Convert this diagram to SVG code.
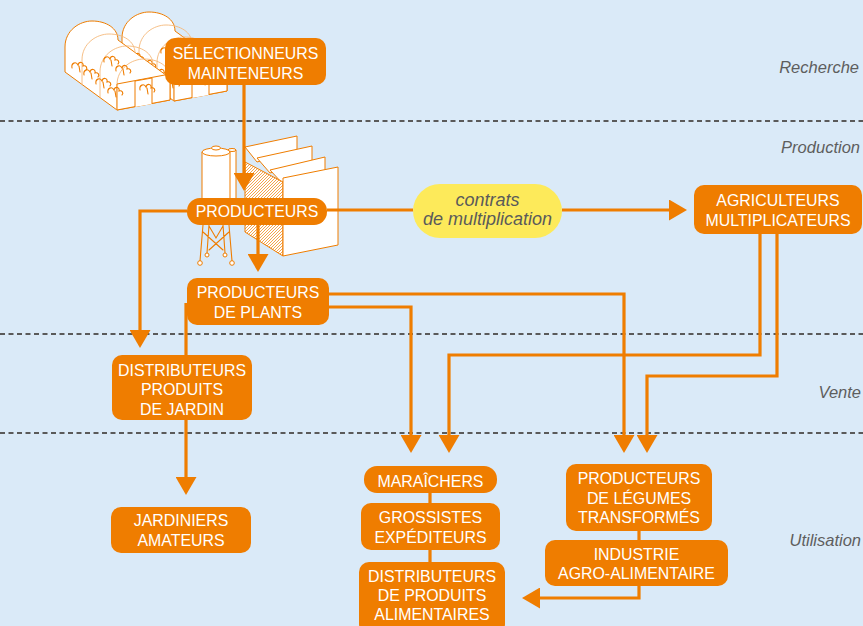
<svg xmlns="http://www.w3.org/2000/svg" width="863" height="626" viewBox="0 0 863 626">
<style>
.bg{fill:#daeaf8}
.dash{stroke:#5a5a5a;stroke-width:2;stroke-dasharray:5 3.5;fill:none}
.box{fill:#ef7d00}
.t{font-family:"Liberation Sans",Arial,sans-serif;font-size:15.9px;fill:#ffffff;text-anchor:middle}
.row{font-family:"Liberation Sans",Arial,sans-serif;font-size:16.5px;font-style:italic;fill:#5e5e5e;text-anchor:end}
.ct{font-family:"Liberation Sans",Arial,sans-serif;font-size:18px;font-style:italic;fill:#5a5a5a;text-anchor:middle}
.ln{fill:none;stroke:#ef7d00;stroke-width:3.2}
.arr{fill:none;stroke:#ef7d00;stroke-width:3.2;marker-end:url(#ah)}
.ill{fill:#ffffff;stroke:#ef7d00;stroke-width:1;stroke-linejoin:round}
.rib{fill:none;stroke:#f5b97a;stroke-width:0.9}
.pl{fill:none;stroke:#ef7d00;stroke-width:1.1;stroke-linecap:round}
</style>
<defs>
<marker id="ah" viewBox="0 0 18 21" refX="1" refY="10.5" markerWidth="18" markerHeight="21" markerUnits="userSpaceOnUse" orient="auto">
<path d="M0,0 L18,10.5 L0,21 Z" fill="#ef7d00"/>
</marker>
<pattern id="hatch" patternUnits="userSpaceOnUse" width="3" height="3">
<rect width="3" height="3" fill="#ffffff"/>
<path d="M0,3 L3,0" stroke="#ef7d00" stroke-width="0.7"/>
</pattern>
<g id="tunnel">
<path class="ill" d="M65,72 V47 C65,30 80,21 92,21 C106,21 118,28 118,40 L170,78 V100 L117,110 Z"/>
<path class="rib" d="M82,85 V60 C82,43 97,34 109,34 C123,34 135,41 135,53"/>
<path class="rib" d="M100,97 V72 C100,55 115,46 127,46 C141,46 153,53 153,65"/>
<path class="rib" d="M117,110 V85 C117,68 132,59 144,59 C158,59 170,66 170,78"/>
<path class="ill" d="M117,110 V84 L170,74 V100 Z"/>
<path class="ill" d="M135,107 V81 L152,78 V104"/>
<path class="pl" d="M72,68 c-1,-5 4,-7 6,-3 c1,-4 6,-3 5,1 c3,-1 5,2 3,4 M79,66 l1,6 M84,75 c-1,-5 4,-7 6,-3 c1,-4 6,-3 5,1 c3,-1 5,2 3,4 M91,73 l1,6 M96,84 c-1,-5 4,-7 6,-3 c1,-4 6,-3 5,1 c3,-1 5,2 3,4 M103,82 l1,6 M108,93 c-1,-5 4,-7 6,-3 c1,-4 6,-3 5,1 c3,-1 5,2 3,4 M115,91 l1,6 M104,62 c-1,-5 4,-7 6,-3 c1,-4 6,-3 5,1 c3,-1 5,2 3,4 M111,60 l1,6 M116,71 c-1,-5 4,-7 6,-3 c1,-4 6,-3 5,1 c3,-1 5,2 3,4 M123,69 l1,6 M140,90 c-1,-5 4,-7 6,-3 c1,-4 6,-3 5,1 c3,-1 5,2 3,4 M147,88 l1,6"/>
</g>
</defs>

<rect class="bg" x="0" y="0" width="863" height="626"/>

<g id="separators">
<line class="dash" x1="0" y1="121" x2="863" y2="121"/>
<line class="dash" x1="0" y1="334" x2="863" y2="334"/>
<line class="dash" x1="0" y1="433" x2="863" y2="433"/>
</g>

<g id="greenhouses">
<use href="#tunnel" transform="translate(57,-9)"/>
<use href="#tunnel"/>
</g>

<g id="factory">
<path class="ill" d="M245,147 L297,136 L297,151 L257,162 Z"/>
<path class="ill" d="M257,158 L312,146 L312,162 L270,173 Z"/>
<path class="ill" d="M270,170 L325,157 L325,172 L283,184 Z"/>
<path d="M245,162 L283,182 L283,256 L245,232 Z" fill="url(#hatch)" stroke="#ef7d00" stroke-width="1"/>
<path class="ill" d="M283,178 L338,167 L338,245 L283,256 Z"/>
<rect class="ill" x="228" y="150" width="8" height="50"/>
<ellipse class="ill" cx="232" cy="150" rx="4" ry="1.5"/>
<rect class="ill" x="202" y="152" width="28" height="48"/>
<ellipse class="ill" cx="216" cy="152" rx="14" ry="4"/>
<ellipse class="ill" cx="216" cy="148" rx="4.5" ry="2"/>
<path class="pl" d="M203,225 L200,261 M229,225 L232,261 M209,225 L207,253 M223,225 L225,253 M203,232 L223,250 M229,232 L209,250 M209,226 L216,238 L223,226"/>
<circle class="ill" cx="200" cy="263" r="2.3"/>
<circle class="ill" cx="232" cy="263" r="2.3"/>
<circle class="ill" cx="207" cy="255" r="2"/>
<circle class="ill" cx="225" cy="255" r="2"/>
</g>

<g id="connectors">
<path class="arr" d="M244,85 V174"/>
<path class="arr" d="M258,225 V255"/>
<path class="arr" d="M187,211 H140 V331"/>
<path class="ln" d="M186,303 V355"/>
<path class="arr" d="M186,420 V478"/>
<path class="ln" d="M327,210 H413"/>
<path class="arr" d="M562,210 H670"/>
<path class="arr" d="M329,294 H624 V436"/>
<path class="arr" d="M329,307 H411 V436"/>
<path class="arr" d="M760,234 V355 H449 V436"/>
<path class="arr" d="M777,234 V376 H647 V436"/>
<path class="ln" d="M430,493 V503 M430,550 V562"/>
<path class="ln" d="M639,531 V540"/>
<path class="arr" d="M639,586 V598 H539"/>
</g>

<g id="selectionneurs">
<rect class="box" x="165" y="38" width="161" height="47" rx="10"/>
<text class="t" x="245.5" y="59">SÉLECTIONNEURS</text>
<text class="t" x="245.5" y="79">MAINTENEURS</text>
</g>

<g id="producteurs">
<rect class="box" x="187" y="198" width="140" height="27" rx="13"/>
<text class="t" x="257" y="217">PRODUCTEURS</text>
</g>

<g id="contrats">
<rect x="413" y="184" width="149" height="54" rx="27" fill="#fdea5a"/>
<text class="ct" x="487.5" y="206">contrats</text>
<text class="ct" x="487.5" y="225">de multiplication</text>
</g>

<g id="agriculteurs">
<rect class="box" x="694" y="185" width="168" height="49" rx="10"/>
<text class="t" x="778" y="206">AGRICULTEURS</text>
<text class="t" x="778" y="226">MULTIPLICATEURS</text>
</g>

<g id="plants">
<rect class="box" x="187" y="278" width="142" height="47" rx="10"/>
<text class="t" x="258" y="298">PRODUCTEURS</text>
<text class="t" x="258" y="318">DE PLANTS</text>
</g>

<g id="distrib-jardin">
<rect class="box" x="112" y="355" width="140" height="65" rx="10"/>
<text class="t" x="182" y="376">DISTRIBUTEURS</text>
<text class="t" x="182" y="395">PRODUITS</text>
<text class="t" x="182" y="415">DE JARDIN</text>
</g>

<g id="jardiniers">
<rect class="box" x="111" y="507" width="140" height="46" rx="10"/>
<text class="t" x="181" y="526">JARDINIERS</text>
<text class="t" x="181" y="546">AMATEURS</text>
</g>

<g id="maraichers">
<rect class="box" x="364" y="466" width="133" height="27" rx="13"/>
<text class="t" x="430.5" y="487">MARAÎCHERS</text>
</g>

<g id="grossistes">
<rect class="box" x="361" y="503" width="139" height="47" rx="10"/>
<text class="t" x="430.5" y="523">GROSSISTES</text>
<text class="t" x="430.5" y="543">EXPÉDITEURS</text>
</g>

<g id="distrib-alim">
<rect class="box" x="359" y="562" width="146" height="72" rx="10"/>
<text class="t" x="432" y="582">DISTRIBUTEURS</text>
<text class="t" x="432" y="601">DE PRODUITS</text>
<text class="t" x="432" y="620">ALIMENTAIRES</text>
</g>

<g id="legumes">
<rect class="box" x="566" y="464" width="146" height="67" rx="10"/>
<text class="t" x="639" y="484">PRODUCTEURS</text>
<text class="t" x="639" y="504">DE LÉGUMES</text>
<text class="t" x="639" y="523">TRANSFORMÉS</text>
</g>

<g id="industrie">
<rect class="box" x="545" y="540" width="183" height="46" rx="10"/>
<text class="t" x="636.5" y="560">INDUSTRIE</text>
<text class="t" x="636.5" y="579">AGRO-ALIMENTAIRE</text>
</g>

<g id="rows">
<text class="row" x="859" y="73">Recherche</text>
<text class="row" x="860" y="153">Production</text>
<text class="row" x="861" y="398">Vente</text>
<text class="row" x="861" y="546">Utilisation</text>
</g>
</svg>
